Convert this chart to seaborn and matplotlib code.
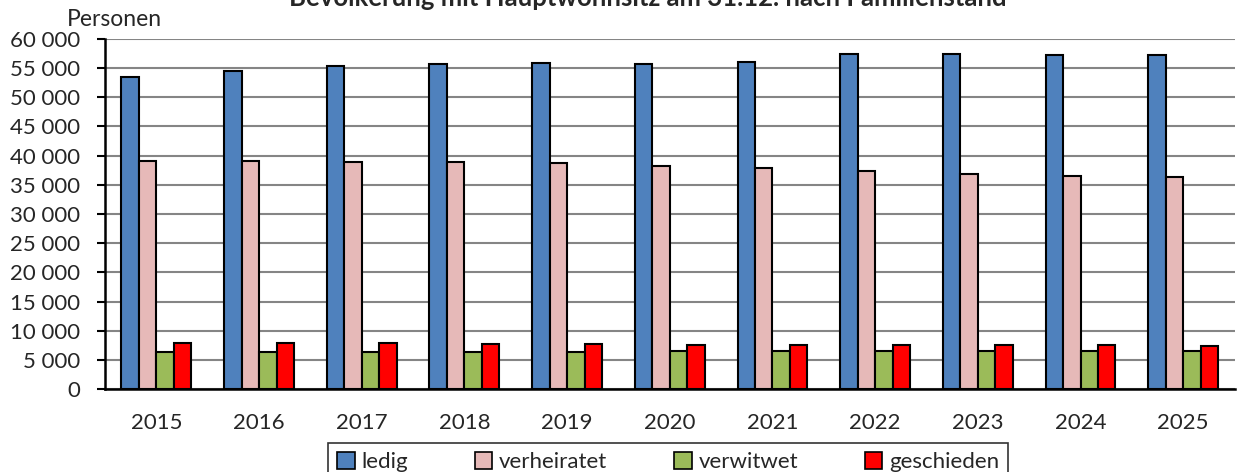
import numpy as np
import pandas as pd
import matplotlib.pyplot as plt
import matplotlib.ticker as mticker
from matplotlib.patches import Patch
import seaborn as sns

# Werte (Personen)
years = ["2015", "2016", "2017", "2018", "2019", "2020", "2021", "2022", "2023", "2024", "2025"]
ledig = [53550, 54560, 55370, 55770, 55940, 55770, 56120, 57370, 57430, 57320, 57260]
verheiratet = [39140, 39030, 38910, 38970, 38740, 38290, 37830, 37370, 36910, 36570, 36340]
verwitwet = [6300, 6320, 6330, 6340, 6350, 6480, 6500, 6510, 6510, 6510, 6520]
geschieden = [7830, 7830, 7830, 7750, 7720, 7600, 7580, 7550, 7500, 7500, 7430]

status = ["ledig", "verheiratet", "verwitwet", "geschieden"]
colors = ["#4F81BD", "#E6B9B8", "#9BBB59", "#FF0000"]
yticks = list(range(0, 60001, 5000))

df = pd.DataFrame({"Jahr": years, "ledig": ledig, "verheiratet": verheiratet,
                   "verwitwet": verwitwet, "geschieden": geschieden})
df_long = df.melt(id_vars="Jahr", var_name="Familienstand", value_name="Personen")

sns.set_style("white")
plt.rcParams["font.family"] = ["Lato", "DejaVu Sans"]

fig = plt.figure(figsize=(12.37, 4.72), dpi=100)
ax = fig.add_axes([0.0849, 0.1758, 0.9131, 0.7416])

sns.barplot(data=df_long, x="Jahr", y="Personen", hue="Familienstand",
            hue_order=status, palette=colors, width=0.68, saturation=1,
            edgecolor="black", linewidth=1.5, ax=ax, legend=False, zorder=3)

# Achsen und Gitter
ax.set_xlim(-0.5, len(years) - 0.5)
ax.set_ylim(0, 60000)
ax.set_yticks(yticks)
ax.yaxis.set_major_formatter(mticker.FuncFormatter(lambda v, p: f"{int(v):,}".replace(",", " ")))
ax.yaxis.grid(True, color="#858585", linewidth=1.5, zorder=0)
ax.set_axisbelow(True)
ax.set_xlabel("")
ax.set_ylabel("")

for side in ["top", "right"]:
    ax.spines[side].set_visible(False)
for side in ["left", "bottom"]:
    ax.spines[side].set_color("black")
    ax.spines[side].set_linewidth(1.8)

ax.set_xticks(np.arange(-0.5, len(years), 1.0), minor=True)
ax.tick_params(axis="x", which="major", length=0, pad=17, labelsize=16)
ax.tick_params(axis="x", which="minor", length=8, width=1.5, color="black", direction="out")
ax.tick_params(axis="y", length=6, width=1.5, color="black", direction="out", labelsize=16, pad=12, left=True)

fig.text(0.054, 0.937, "Personen", fontsize=16.5, ha="left", va="bottom")
fig.text(0.524, 1 - 6 / 472, "Bevölkerung mit Hauptwohnsitz am 31.12. nach Familienstand",
         fontsize=18.5, fontweight="bold", ha="center", va="baseline")

handles = [Patch(facecolor=c, edgecolor="black", linewidth=1.2, label=s) for s, c in zip(status, colors)]
leg = fig.legend(handles=handles, loc="upper center", bbox_to_anchor=(0.540, 0.0614), ncol=4,
                 frameon=True, fancybox=False, fontsize=16, handlelength=0.8, handleheight=0.8,
                 handletextpad=0.3, columnspacing=3.0, borderpad=0.4, borderaxespad=0)
leg.get_frame().set_edgecolor("black")
leg.get_frame().set_linewidth(1.2)

fig.savefig("out.png", dpi=100)
